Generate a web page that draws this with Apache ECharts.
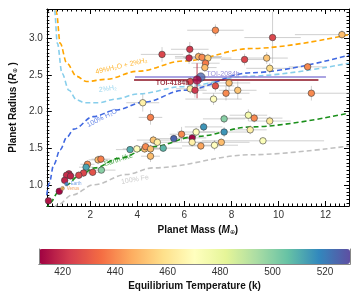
<!DOCTYPE html>
<html><head><meta charset="utf-8">
<script src="https://cdn.jsdelivr.net/npm/echarts@6/dist/echarts.min.js"></script>
<style>html,body{margin:0;padding:0;background:#fff}#c{width:360px;height:300px}</style>
</head><body><div id="c"></div>
<script>
// ---------- planet data ----------
const mass   = [5.05,4.23,4.56,7.32,9.75,12.70,6.23,6.20,6.60,6.75,7.00,6.90,6.87,8.56,9.50,9.63,11.24,
                6.25,7.90,7.32,6.25,6.45,7.77,8.27,7.24,11.40,7.69,8.72,8.97,9.63,6.82,6.50,7.69,8.80,
                6.33,6.33,6.70,7.28,7.57,9.34,5.88,4.68,4.85,5.55,3.69,3.98,4.31,4.35,4.56,5.10,4.56,
                1.88,1.82,2.33,2.45,1.71,1.51,2.10,2.47,1.09,0.99,1.16,0.91,0.68,0.22];
const radius = [2.78,2.12,1.92,3.11,3.01,3.05,2.85,2.73,2.75,2.74,2.73,2.66,2.60,2.71,2.73,2.59,2.61,
                2.41,2.39,2.35,2.31,2.29,2.25,2.29,2.17,2.25,1.90,1.95,1.91,1.87,1.79,1.72,1.72,1.75,
                1.64,1.58,1.53,1.54,1.58,1.60,1.69,1.61,1.58,1.63,1.48,1.49,1.49,1.52,1.49,1.50,1.39,
                1.28,1.24,1.34,1.35,1.16,1.13,1.17,1.20,1.15,1.13,1.12,1.06,0.91,0.78];
const teq    = [425,465,438,440,425,450,422,420,448,440,455,437,450,425,452,458,440,
                425,450,428,465,422,440,452,470,440,500,475,440,462,515,470,515,465,
                412,465,445,470,450,472,440,452,465,525,510,470,452,440,450,508,450,
                440,512,450,438,425,425,428,500,418,420,418,418,412,415];
const massErr= [0.9,0.7,0.5,1.2,1.2,2.0,0.8,0.6,1.0,0.8,1.0,0.6,0.5,1.0,0.9,1.0,0.8,
                0.5,0.9,0.8,0.6,0.5,1.0,0.8,1.2,1.8,0.9,0.8,1.2,0.9,0.8,0.8,1.1,0.7,
                0.6,0.8,0.8,1.0,1.2,2.6,0.5,0.7,0.6,0.7,0.6,0.6,0.7,0.5,0.6,0.8,0.4,
                0.3,0.3,0.4,0.4,0.3,0.3,0.3,0.6,0.15,0.15,0.15,0.1,0.1,0.05];
const radErr = [0.10,0.12,0.10,0.08,0.35,0.06,0.10,0.08,0.06,0.07,0.06,0.08,0.06,0.08,0.08,0.07,0.05,
                0.06,0.10,0.08,0.07,0.10,0.10,0.12,0.08,0.10,0.06,0.08,0.06,0.06,0.06,0.06,0.07,0.06,
                0.05,0.06,0.05,0.07,0.05,0.04,0.10,0.06,0.05,0.05,0.04,0.05,0.05,0.05,0.06,0.05,0.08,
                0.05,0.05,0.06,0.05,0.05,0.05,0.05,0.04,0.03,0.03,0.03,0.03,0.03,0.03];

// highlighted planets
const toiNames  = ['TOI-2084b','TOI-4184b'];
const toiMass   = [6.70, 6.54];
const toiRadius = [2.47, 2.43];
const toiTeq    = [525, 412];
const toiMassLo = [3.90, 3.86];
const toiMassHi = [12.02, 11.70];
const toiRadLo  = [2.47, 2.18];
const toiRadHi  = [2.47, 2.66];

// solar system
const solarNames  = ['Earth','Venus'];
const solarMass   = [0.99, 0.815];
const solarRadius = [1.01, 0.95];

// composition curves
const h2o49M = [0.50,0.56,0.72,1.00,1.42,1.84,2.66,4.02,5.96,8.85,13.0];
const h2o49R = [3.60,3.35,2.93,2.66,2.48,2.41,2.44,2.55,2.69,2.86,3.05];
const h2M    = [0.44,0.48,0.60,0.80,1.09,1.42,1.75,2.37,3.07,4.02,5.96,8.64,13.0];
const h2R    = [3.60,3.38,2.93,2.52,2.29,2.16,2.12,2.12,2.17,2.24,2.34,2.48,2.66];
const waterM = [0.15,0.25,0.45,0.72,1.00,1.30,2.12,3.07,4.31,5.96,8.85,13.0];
const waterR = [0.86,1.02,1.28,1.48,1.65,1.76,1.93,2.02,2.13,2.29,2.53,2.77];
const earthM = [0.15,0.30,0.64,1.00,1.50,2.20,3.20,4.64,6.50,8.85,13.0];
const earthR = [0.66,0.76,0.90,1.00,1.12,1.23,1.36,1.52,1.66,1.79,1.98];
const ironM  = [0.45,0.64,1.22,2.16,3.53,4.64,8.85,13.0];
const ironR  = [0.68,0.73,0.86,1.00,1.14,1.23,1.41,1.53];

const curveNames = ['49%H₂O + 2%H₂','2%H₂','100% H₂O','Earth-like','100% Fe'];
const curveLabelM = [3.32, 2.74, 2.50, 3.20, 3.90];
const curveLabelR = [2.62, 2.31, 1.91, 1.34, 1.07];

// ticks
const xTickLabels = [2,4,6,8,10,12];
const yTickLabels = [1.0,1.5,2.0,2.5,3.0];
const cbTickLabels = [420,440,460,480,500,520];
const xRange = [0.15, 13];
const yRange = [0.71, 3.4];
const tRange = [411, 529.5];

// ---------- build ----------
const xMinor = []; for (let v = 0.2; v < 13; v += 0.2) xMinor.push(+v.toFixed(2));
const yMinor = []; for (let v = 0.75; v < 3.4; v += 0.05) yMinor.push(+v.toFixed(2));
const spectral = ['#9e0142','#d53e4f','#f46d43','#fdae61','#fee08b','#ffffbf','#e6f598','#abdda4','#66c2a5','#3288bd','#5e4fa2'];
const FONT = 'Liberation Sans, Arial, sans-serif';
const zip = (a,b) => a.map((v,i)=>[v,b[i]]);

const curveColors = ['#FFA500','#87CEEB','#4169E1','#1a8f1a','#C0C0C0'];
const curveData = [zip(h2o49M,h2o49R), zip(h2M,h2R), zip(waterM,waterR), zip(earthM,earthR), zip(ironM,ironR)];
const curveRot = [13, 8, 27, 17, 10];

function majorAx(pos, labels, show, isX){
  return {
    type:'value', position:pos, min: isX?xRange[0]:yRange[0], max: isX?xRange[1]:yRange[1],
    axisLine:{show:true, lineStyle:{color:'#000', width:1}},
    axisTick:{show:true, inside:true, length:5, customValues:labels, lineStyle:{color:'#000', width:1}},
    axisLabel:{show:show, customValues:labels, color:'#333', fontSize:10, fontFamily:FONT, margin:4,
      formatter: v => isX ? String(v) : v.toFixed(1)},
    splitLine:{show:false}
  };
}
function minorAx(pos, vals, isX){
  return {
    type:'value', position:pos, min: isX?xRange[0]:yRange[0], max: isX?xRange[1]:yRange[1],
    axisLine:{show:false},
    axisTick:{show:true, inside:true, length:2.5, customValues:vals, lineStyle:{color:'#000', width:1}},
    axisLabel:{show:false, customValues:vals}, splitLine:{show:false}
  };
}

const nameRich = {
  b:{fontWeight:'bold', fontSize:10, fontFamily:FONT, color:'#111'},
  i:{fontStyle:'italic', fontWeight:'bold', fontSize:10, fontFamily:FONT, color:'#111'},
  s:{fontSize:6, fontFamily:FONT, color:'#111', padding:[4,0,0,0]}};
const xMain = majorAx('bottom', xTickLabels, true, true);
xMain.name = '{b|Planet Mass (}{i|M}{s|⊕}{b|)}';
xMain.nameLocation = 'middle'; xMain.nameGap = 16;
xMain.nameTextStyle = {rich:nameRich};
const yMain = majorAx('left', yTickLabels, true, false);
yMain.name = '{b|Planet Radius (}{i|R}{s|⊕}{b| )}';
yMain.nameLocation = 'middle'; yMain.nameGap = 24;
yMain.nameTextStyle = {rich:nameRich};

function cbAx(pos, isX, labels){
  return {
    gridIndex:1, type:'value', position:pos, min: isX?tRange[0]:0, max: isX?tRange[1]:1, z:10,
    axisLine:{show:true, lineStyle:{color:'#888', width:1}},
    axisTick:{show:false},
    axisLabel:{show:!!labels, customValues:labels||[], color:'#333', fontSize:10, fontFamily:FONT, margin:3},
    splitLine:{show:false}
  };
}
const cbX = cbAx('bottom', true, cbTickLabels);
cbX.name = 'Equilibrium Temperature (k)';
cbX.nameLocation = 'middle'; cbX.nameGap = 17;
cbX.nameTextStyle = {fontWeight:'bold', fontSize:10, fontFamily:FONT, color:'#111'};

const series = [];
// error bars
series.push({
  type:'custom', xAxisIndex:0, yAxisIndex:0, clip:true, z:1, silent:true,
  data: mass.map((m,i)=>[m, radius[i], massErr[i], radErr[i]]),
  renderItem:(params, api) => {
    const m=api.value(0), r=api.value(1), me=api.value(2), re=api.value(3);
    const a=api.coord([m-me,r]), b=api.coord([m+me,r]), c=api.coord([m,r-re]), d=api.coord([m,r+re]);
    const st = {stroke:'rgba(170,170,170,0.55)', lineWidth:1};
    return {type:'group', children:[
      {type:'line', shape:{x1:a[0],y1:a[1],x2:b[0],y2:b[1]}, style:st},
      {type:'line', shape:{x1:c[0],y1:c[1],x2:d[0],y2:d[1]}, style:st}
    ]};
  }
});
// curves
curveData.forEach((d,k)=>{
  series.push({type:'line', xAxisIndex:0, yAxisIndex:0, data:d, smooth:0.35, smoothMonotone:'x',
    showSymbol:false, symbol:'none', clip:true, z:2, silent:true,
    lineStyle:{color:curveColors[k], width:1.6, type:[5,3]}});
});
// TOI error lines
const toiColors = ['#8f86d8','#8b1020'];
toiNames.forEach((n,k)=>{
  series.push({type:'line', xAxisIndex:0, yAxisIndex:0, symbol:'none', z:3, silent:true,
    data:[[toiMassLo[k], toiRadius[k]],[toiMassHi[k], toiRadius[k]]],
    lineStyle:{color:toiColors[k], width:1.5}});
  series.push({type:'line', xAxisIndex:0, yAxisIndex:0, symbol:'none', z:3, silent:true,
    data:[[toiMass[k], toiRadLo[k]],[toiMass[k], toiRadHi[k]]],
    lineStyle:{color: k===1 ? 'rgba(190,40,60,0.6)' : toiColors[k], width:1.5}});
});
// points
const ptsIndex = series.length;
series.push({type:'scatter', xAxisIndex:0, yAxisIndex:0, z:5, symbolSize:6.5,
  data: mass.map((m,i)=>[m, radius[i], teq[i]]),
  itemStyle:{borderColor:'#3a3a3a', borderWidth:0.6, opacity:1}});
// TOI points
const toiIndex = series.length;
series.push({type:'scatter', xAxisIndex:0, yAxisIndex:0, z:6, symbolSize:8.5,
  data: toiNames.map((n,k)=>({name:n, value:[toiMass[k], toiRadius[k], toiTeq[k]],
     label:{show:true, formatter:'{b}', position: k===0?'right':'left', distance: k===0?1:3,
       offset: k===0?[0,-3]:[0,3], color: k===0?'#7b70d0':'#8b1020', fontSize:7, fontFamily:FONT,
       fontWeight: k===1?'bold':'normal'}})),
  itemStyle:{borderColor:'#3a3a3a', borderWidth:0.6}});
// solar system
series.push({type:'scatter', xAxisIndex:0, yAxisIndex:0, z:6, symbolSize:4,
  data: solarNames.map((n,k)=>({name:n, value:[solarMass[k], solarRadius[k]],
    itemStyle:{color: k===0?'#3f7fd0':'#f5a55a', borderColor:'#444', borderWidth:0.4},
    label:{show:true, formatter:'{b}', position:'right', distance:2, fontSize:4.5, fontFamily:FONT,
      color: k===0?'#5a8fe0':'#f08a3a'}}))});
// curve labels
series.push({type:'scatter', xAxisIndex:0, yAxisIndex:0, z:7, symbolSize:1, silent:true,
  itemStyle:{color:'transparent'},
  data: curveNames.map((n,k)=>({name:n, value:[curveLabelM[k], curveLabelR[k]],
    label:{show:true, formatter:'{b}', position:'inside', rotate:curveRot[k], fontSize:7,
      fontFamily:FONT, color:curveColors[k]}}))});

const option = {
  animation:false,
  backgroundColor:'#fff',
  grid:[{left:39, top:9, width:310, height:197, show:false},
        {left:39, top:249, width:311, height:15, show:false}],
  xAxis:[xMain, majorAx('top', xTickLabels, false, true), minorAx('bottom', xMinor, true), minorAx('top', xMinor, true),
         cbX, cbAx('top', true, null)],
  yAxis:[yMain, majorAx('right', yTickLabels, false, false), minorAx('left', yMinor, false), minorAx('right', yMinor, false),
         cbAx('left', false, null), cbAx('right', false, null)],
  visualMap:[{type:'continuous', min:tRange[0], max:tRange[1], orient:'horizontal', left:39, top:249,
    itemWidth:15, itemHeight:311, padding:0, calculable:false, text:null, showLabel:false,
    seriesIndex:[ptsIndex, toiIndex], dimension:2, inRange:{color:spectral}, hoverLink:false}],
  series: series
};
option.xAxis.slice(0,4).forEach(a=>a.gridIndex=0);
option.yAxis.slice(0,4).forEach(a=>a.gridIndex=0);
const chart = echarts.init(document.getElementById('c'), null, {renderer:'canvas'});
chart.setOption(option);
</script></body></html>
